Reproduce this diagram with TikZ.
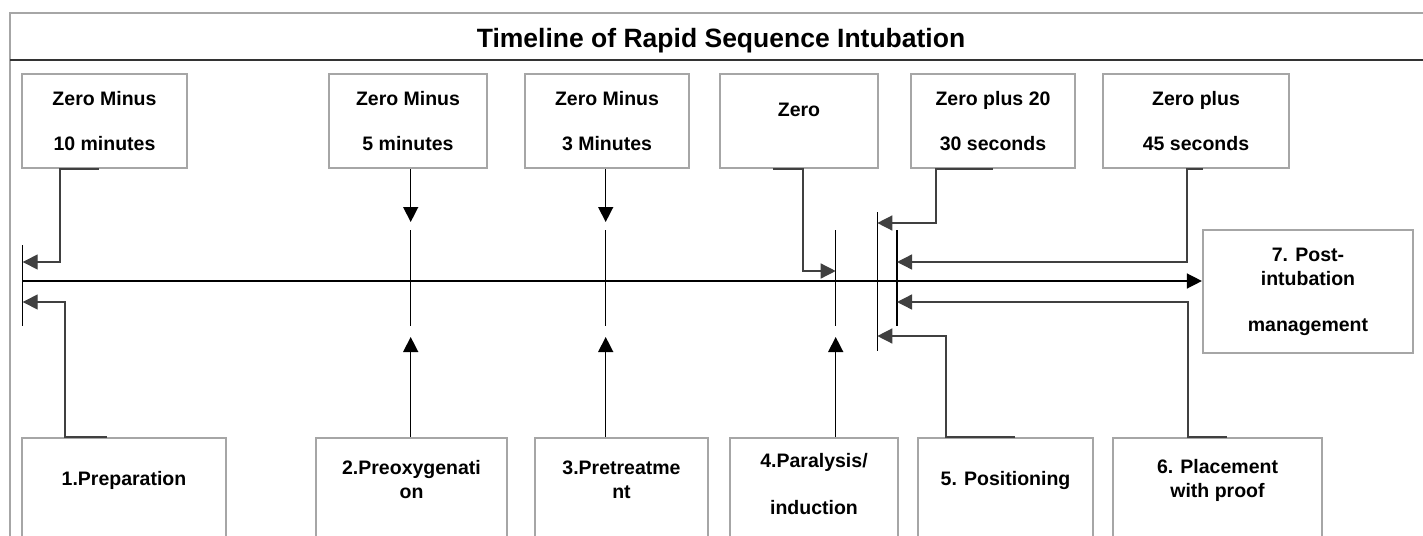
\documentclass[tikz,border=0pt]{standalone}
\usepackage{fontspec}
\setmainfont{Liberation Sans}
\usetikzlibrary{arrows.meta,positioning}

\begin{document}
\begin{tikzpicture}[x=1pt,y=-1pt,
    tbox/.style={draw=black!35,line width=2.2pt,align=center,inner sep=0pt,
      minimum height=94pt,font=\bfseries\fontsize{19.5}{45}\selectfont},
    sbox/.style={draw=black!35,line width=2.2pt,anchor=north,minimum height=160pt},
    lbl/.style={align=center,font=\bfseries\fontsize{19.5}{24}\selectfont},
    tick/.style={line width=1.4pt},
    tip/.style={line width=1.4pt,-{Triangle[length=15pt,width=15pt]}},
    elbow/.style={tip,draw=black!75}]
    \useasboundingbox (0,0) rectangle (1423,535);
    \clip (0,0) rectangle (1423,535);
    \draw[black!35,line width=2pt] (10,13) rectangle (1440,600);
    \draw[black!80,line width=1.3pt] (10,60) -- (1440,60);
    \node[anchor=base,font=\bfseries\fontsize{26.5}{30}\selectfont] (title) at (721,48)
      {Timeline of Rapid Sequence Intubation};

    \node[tbox,minimum width=165pt] (za) at (104.5,121) {Zero Minus\\10 minutes};
    \node[tbox,minimum width=158pt] (zb) at (408,121) {Zero Minus\\5 minutes};
    \node[tbox,minimum width=164pt] (zc) at (607,121) {Zero Minus\\3 Minutes};
    \node[tbox,minimum width=158pt,text depth=22pt] (zd) at (799,121) {Zero};
    \node[tbox,minimum width=164pt] (ze) at (993,121) {Zero plus 20\\30 seconds};
    \node[tbox,minimum width=186pt] (zf) at (1196,121) {Zero plus\\45 seconds};

    \node[sbox,minimum width=204pt] (s1) at (124,437) {};
    \node[sbox,minimum width=191pt] (s2) at (411.5,437) {};
    \node[sbox,minimum width=173pt] (s3) at (621.5,437) {};
    \node[sbox,minimum width=168pt] (s4) at (814,437) {};
    \node[sbox,minimum width=175pt] (s5) at (1005.5,437) {};
    \node[sbox,minimum width=209pt] (s6) at (1217.5,437) {};
    \node[lbl] (l1) at ([yshift=-43pt]s1.north) {1.Preparation};
    \node[lbl] (l2) at ([yshift=-43pt]s2.north) {2.Preoxygenati\\on};
    \node[lbl] (l3) at ([yshift=-43pt]s3.north) {3.Pretreatme\\nt};
    \node[lbl] (l4) at ([yshift=-47pt]s4.north) {4.Paralysis/\\[23pt]induction};
    \node[lbl] (l5) at ([yshift=-43pt]s5.north) {5. Positioning};
    \node[lbl] (l6) at ([yshift=-43pt]s6.north) {6. Placement\\with proof};

    \node[draw=black!35,line width=2.2pt,minimum width=210pt,minimum height=123pt,lbl]
      (p7) at (1308,291.5) {7. Post-\\intubation\\[22pt]management};

    \foreach \n/\x/\t/\b in {1/22.7/245/326, 2/410.7/230/326, 3/605.7/230/326,
      4/835.7/230/326, 5/877.3/212/351, 6/897/230/326} {
      \coordinate (b\n) at (\x,281);
      \draw[tick] (\x,\t) -- (\x,\b);
    }

    \draw[tip] (b1) -- (b1 -| p7.west);
    \draw[tip] (b2 |- zb.south) -- (b2 |- 0,222);
    \draw[tip] (b2 |- s2.north) -- (b2 |- 0,337);
    \draw[tip] (b3 |- zc.south) -- (b3 |- 0,222);
    \draw[tip] (b3 |- s3.north) -- (b3 |- 0,337);
    \draw[tip] (b4 |- s4.north) -- (b4 |- 0,337);

    \draw[elbow] ([xshift=-6pt]za.south) -| (60,262) -- (b1 |- 0,262);
    \draw[elbow] ([xshift=-17pt]s1.north) -| (65,302) -- (b1 |- 0,302);
    \draw[elbow] ([xshift=-26pt]zd.south) -| (803,271) -- (b4 |- 0,271);
    \draw[elbow] (ze.south) -| (936,223) -- (b5 |- 0,223);
    \draw[elbow] ([xshift=7pt]zf.south) -| (1187,262) -- (b6 |- 0,262);
    \draw[elbow] ([xshift=9.5pt]s5.north) -| (946,336) -- (b5 |- 0,336);
    \draw[elbow] ([xshift=9.5pt]s6.north) -| (1188,302) -- (b6 |- 0,302);
\end{tikzpicture}
\end{document}
